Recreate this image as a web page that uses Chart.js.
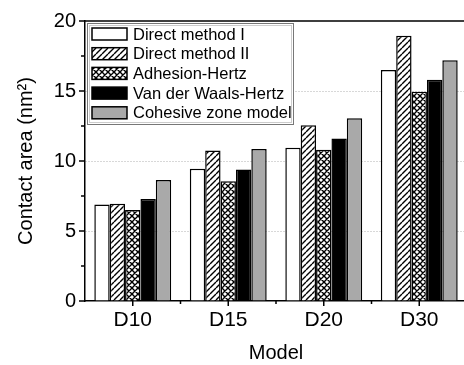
<!DOCTYPE html>
<html>
<head>
<meta charset="utf-8">
<script src="https://cdn.jsdelivr.net/npm/chart.js@4"></script>
<style>
    body { margin: 0; background: #fff; }
    .wrap { width: 464px; height: 365px; overflow: hidden; }
    .box { width: 467px; height: 365px; }
</style>
</head>
<body>
<div class="wrap"><div class="box"><canvas id="areaChart"></canvas></div></div>
<script>
'use strict';

const models = ['D10', 'D15', 'D20', 'D30'];
const seriesNames = ['Direct method I', 'Direct method II', 'Adhesion-Hertz', 'Van der Waals-Hertz', 'Cohesive zone model'];
const directI = [6.9, 9.45, 10.95, 16.5];
const directII = [6.95, 10.75, 12.55, 18.95];
const adhesionHertz = [6.5, 8.55, 10.8, 14.95];
const vdwHertz = [7.28, 9.4, 11.6, 15.8];
const cohesiveZone = [8.65, 10.85, 13.05, 17.2];
const yTicks = [0, 5, 10, 15, 20];

const FONT = 'Liberation Sans, Arial, sans-serif';

function makePattern(type) {
    const c = document.createElement('canvas');
    const s = 6;
    c.width = s;
    c.height = s;
    const g = c.getContext('2d');
    g.fillStyle = '#fff';
    g.fillRect(0, 0, s, s);
    g.strokeStyle = '#000';
    g.lineWidth = 1.4;
    g.beginPath();
    // forward slashes
    for (let k = -1; k <= 1; k++) {
        g.moveTo(k * s, s);
        g.lineTo(k * s + s, 0);
    }
    if (type === 'cross') {
        for (let k = -1; k <= 1; k++) {
            g.moveTo(k * s, 0);
            g.lineTo(k * s + s, s);
        }
    }
    g.stroke();
    return g.createPattern(c, 'repeat');
}

const fills = ['#ffffff', makePattern('hatch'), makePattern('cross'), '#000000', '#a9a9a9'];
const values = [directI, directII, adhesionHertz, vdwHertz, cohesiveZone];

const datasets = seriesNames.map((name, i) => ({
    label: name,
    data: values[i],
    backgroundColor: fills[i],
    borderColor: '#000',
    borderWidth: 1.5,
    borderSkipped: 'bottom',
    categoryPercentage: 0.805,
    barPercentage: 1.0
}));

const framePlugin = {
    id: 'frame',
    afterDraw(chart) {
        const ctx = chart.ctx;
        const area = chart.chartArea;
        const y = chart.scales.y;
        const x = chart.scales.x;
        ctx.save();
        ctx.strokeStyle = '#000';
        ctx.lineWidth = 1.5;
        ctx.beginPath();
        // top frame line
        ctx.moveTo(area.left, area.top);
        ctx.lineTo(area.right, area.top);
        // y ticks (major + minor)
        for (let v = 0; v <= 20; v += 2.5) {
            const py = y.getPixelForValue(v);
            const len = v % 5 === 0 ? 6 : 4;
            ctx.moveTo(area.left - len, py);
            ctx.lineTo(area.left, py);
        }
        // x ticks
        models.forEach((m, i) => {
            const px = x.getPixelForValue(i);
            ctx.moveTo(px, area.bottom);
            ctx.lineTo(px, area.bottom + 5);
            if (i > 0) {
                const mid = (px + x.getPixelForValue(i - 1)) / 2;
                ctx.moveTo(mid, area.bottom);
                ctx.lineTo(mid, area.bottom + 3);
            }
        });
        ctx.stroke();

        // legend
        const lx = area.left + 2, ly = area.top + 2, lw = 206, lh = 101;
        ctx.lineWidth = 1;
        ctx.strokeStyle = '#777';
        ctx.fillStyle = '#fff';
        ctx.fillRect(lx, ly, lw, lh);
        ctx.strokeRect(lx + 0.5, ly + 0.5, lw, lh);
        ctx.strokeStyle = '#ccc';
        ctx.strokeRect(lx + 2.5, ly + 2.5, lw - 4, lh - 4);
        ctx.font = '16.5px ' + FONT;
        ctx.textBaseline = 'middle';
        chart.data.datasets.forEach((ds, i) => {
            const ry = ly + 11 + i * 19.7;
            ctx.fillStyle = ds.backgroundColor;
            ctx.fillRect(lx + 5, ry - 6, 35, 12);
            ctx.strokeStyle = '#000';
            ctx.lineWidth = 1.5;
            ctx.strokeRect(lx + 5, ry - 6, 35, 12);
            ctx.fillStyle = '#000';
            ctx.fillText(ds.label, lx + 46, ry + 1);
        });
        ctx.restore();
    }
};

new Chart(document.getElementById('areaChart'), {
    type: 'bar',
    data: { labels: models, datasets: datasets },
    options: {
        responsive: true,
        maintainAspectRatio: false,
        animation: false,
        layout: { padding: { top: 20, right: 0, left: 0, bottom: 0 } },
        plugins: {
            legend: { display: false },
            tooltip: { enabled: false }
        },
        scales: {
            x: {
                grid: { display: false, drawTicks: false },
                border: { display: true, color: '#000', width: 1.5 },
                ticks: { color: '#000', font: { family: FONT, size: 21 }, padding: 7 },
                title: {
                    display: true, text: 'Model', color: '#000',
                    font: { family: FONT, size: 20 }, padding: { top: 0, bottom: 0 }
                },
                afterFit(scale) { scale.height = 64; }
            },
            y: {
                min: 0,
                max: 20,
                afterBuildTicks(scale) { scale.ticks = yTicks.map(v => ({ value: v })); },
                grid: {
                    drawTicks: false,
                    color: ctx => (ctx.tick && ctx.tick.value > 0 && ctx.tick.value < 20) ? '#b0b0b0' : 'rgba(0,0,0,0)',
                    lineWidth: 1
                },
                border: { display: true, color: '#000', width: 1.5, dash: [1, 2] },
                ticks: { color: '#000', font: { family: FONT, size: 20 }, padding: 9 },
                title: {
                    display: true, text: 'Contact area (nm²)', color: '#000',
                    font: { family: FONT, size: 20 }, padding: { top: 14 }
                },
                afterFit(scale) { scale.width = 85; }
            }
        }
    },
    plugins: [framePlugin]
});
</script>
</body>
</html>
